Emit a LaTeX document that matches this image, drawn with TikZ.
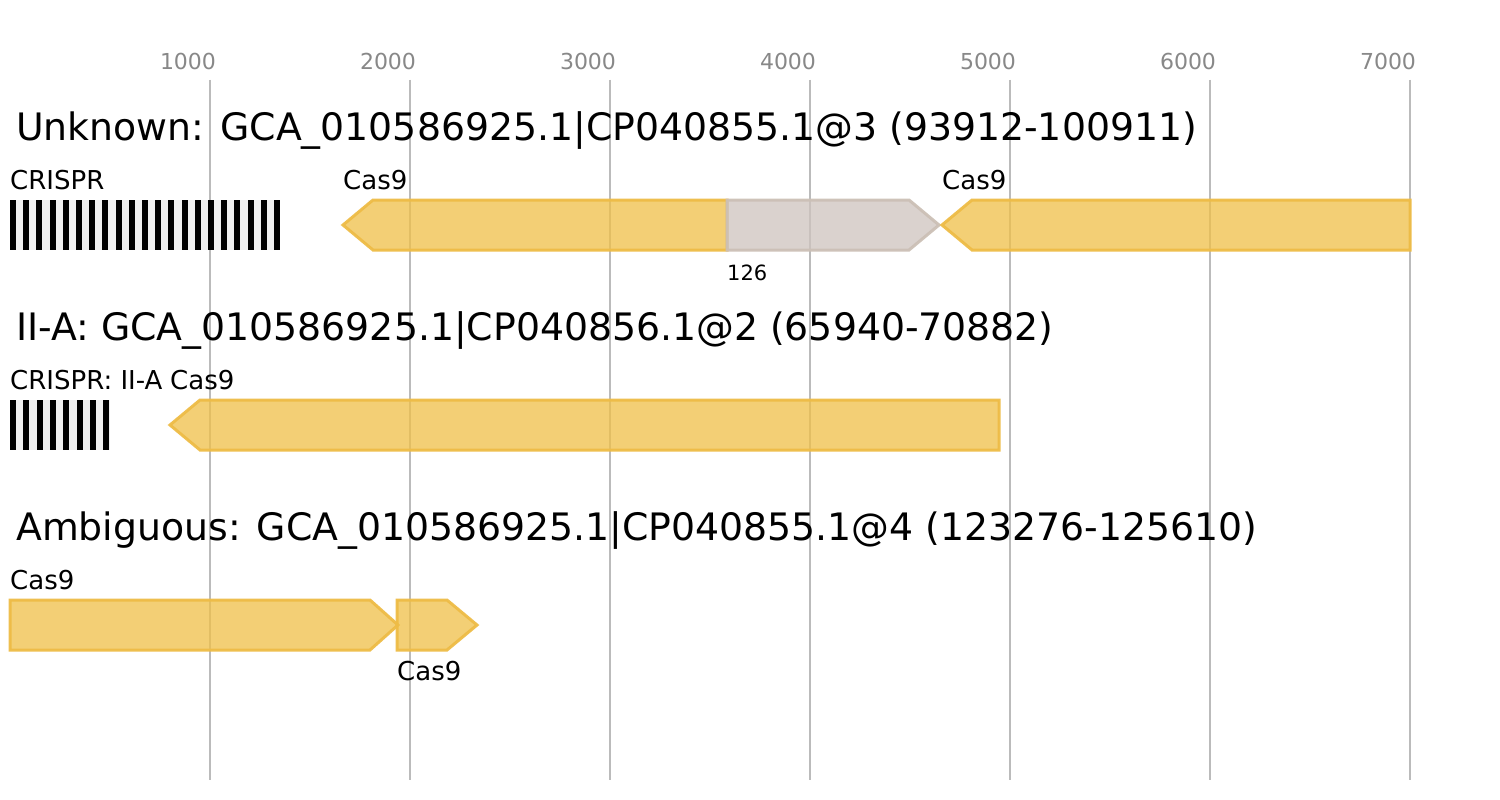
\documentclass[tikz,border=0pt]{standalone}
\usepackage{fontspec}
\setmainfont{DejaVu Sans}
\definecolor{gridc}{RGB}{187,187,187}
\definecolor{tickc}{RGB}{136,136,136}
\definecolor{casfill}{RGB}{240,192,72}
\definecolor{casdraw}{RGB}{238,188,70}
\definecolor{grayfill}{RGB}{206,196,190}
\definecolor{graydraw}{RGB}{204,192,182}
\definecolor{crlight}{RGB}{240,240,240}
\begin{document}
\begin{tikzpicture}[x=1pt,y=-1pt,
  title/.style={anchor=base west,inner sep=0pt,font=\fontsize{37.8}{40}\selectfont},
  lab/.style={anchor=base west,inner sep=0pt,font=\fontsize{26}{28}\selectfont},
  small/.style={anchor=base west,inner sep=0pt,font=\fontsize{21}{23}\selectfont},
  tick/.style={anchor=base,inner sep=0pt,text=tickc,font=\fontsize{22}{24}\selectfont},
  gridline/.style={draw=gridc,line width=1.6pt},
  cas/.style={fill=casfill,fill opacity=0.75,draw=casdraw,draw opacity=0.95,line width=3pt,line join=miter},
  other/.style={fill=grayfill,fill opacity=0.75,draw=graydraw,draw opacity=0.95,line width=3pt,line join=miter}]
\useasboundingbox (0,0) rectangle (1500,800);
\fill[white] (0,0) rectangle (1500,800);
% grid
\foreach \k/\v in {0/1000,1/2000,2/3000,3/4000,4/5000,5/6000,6/7000}{
  \draw[gridline] ({210+200*\k},80) -- ({210+200*\k},780);
  \node[tick] (t\k) at ({188+200*\k},70) {\v};
}
% titles
\node[title] (title1) at (16,140) {Unknown: GCA\_010586925.1|CP040855.1@3 (93912-100911)};
\node[title] (title2) at (16,340) {II-A: GCA\_010586925.1|CP040856.1@2 (65940-70882)};
\node[title] (title3) at (16,540) {Ambiguous: GCA\_010586925.1|CP040855.1@4 (123276-125610)};
% row 1
\fill[crlight] (10,200) rectangle (280,250);
\foreach \i in {0,...,20}{\fill[black] ({10+13.2*\i},200) rectangle +(6,50);}
\node[lab] (l1) at (10,189) {CRISPR};
\draw[cas] (343,225) -- (373,200) -- (727,200) -- (727,250) -- (373,250) -- cycle;
\node[lab] (l2) at (343,189) {Cas9};
\draw[other] (727,200) -- (909,200) -- (939,225) -- (909,250) -- (727,250) -- cycle;
\node[small] (l3) at (727,280) {126};
\draw[cas] (942,225) -- (972,200) -- (1410,200) -- (1410,250) -- (972,250) -- cycle;
\node[lab] (l4) at (942,189) {Cas9};
% row 2
\fill[crlight] (10,400) rectangle (110,450);
\foreach \i in {0,...,7}{\fill[black] ({10+13.3*\i},400) rectangle +(6,50);}
\node[lab] (l5) at (10,389) {CRISPR: II-A};
\draw[cas] (170,425) -- (200,400) -- (999,400) -- (999,450) -- (200,450) -- cycle;
\node[lab] (l6) at (170,389) {Cas9};
% row 3
\draw[cas] (10,600) -- (370,600) -- (398,625) -- (370,650) -- (10,650) -- cycle;
\node[lab] (l7) at (10,589) {Cas9};
\draw[cas] (397,600) -- (447,600) -- (477,625) -- (447,650) -- (397,650) -- cycle;
\node[lab] (l8) at (397,680) {Cas9};
\end{tikzpicture}
\end{document}
